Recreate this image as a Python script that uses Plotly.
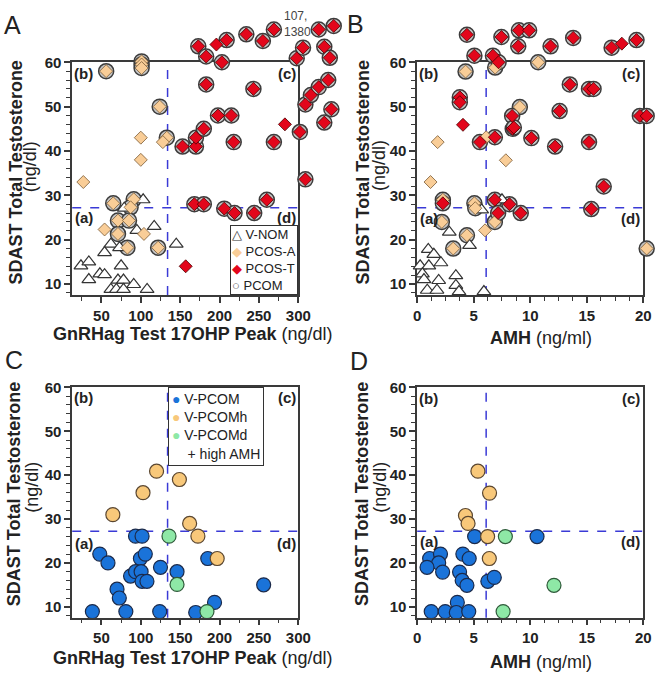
import plotly.graph_objects as go

FONT = "Arial, Liberation Sans, sans-serif"
W, H = 667, 673

# ---------------- panel A: 17OHP peak (ng/dl) vs testosterone ----------------
vnom_a_x = [103, 79, 95, 117, 145, 62, 54, 73, 24, 34, 34, 48, 54, 75, 71, 78, 62, 69, 78, 91, 108]
vnom_a_y = [29, 27.1, 22.1, 23, 19, 19, 17.1, 18.2, 14.1, 15, 11, 12.3, 12.1, 14.1, 10.9, 10.9, 8.8, 8.8, 8.8, 9.9, 8.8]

pcosa_a_x = [56, 101, 101, 101, 124, 133, 65, 91, 87, 71, 85, 71, 83, 122, 100, 100, 27, 128, 54, 104]
pcosa_a_y = [58, 60.2, 59.5, 58.7, 50, 43, 28.2, 29.1, 27.3, 24.3, 24.3, 21.3, 18.2, 18.2, 43, 38, 33, 42, 22.3, 21.3]
pcosa_a_pcom = [1] * 14 + [0] * 6

pcost_a_x = [153, 170, 170, 180, 198, 215, 218, 183, 243, 269, 302, 309, 309, 316, 326, 338, 342, 333,
             173, 183, 203, 209, 234, 255, 269, 298, 306, 326, 333, 340, 345,
             168, 180, 206, 219, 244, 260,
             196, 283, 157]
pcost_a_y = [41, 41, 43, 45, 48, 48, 42, 55, 54, 42, 44.3, 50.5, 33.6, 52.6, 54.4, 56, 49.4, 46.4,
             63.6, 61.3, 60, 65, 66.3, 64.8, 67.4, 60.9, 63.3, 67.4, 63.5, 61, 68.2,
             28, 28, 27, 26, 26, 29,
             64, 46, 14]
pcost_a_pcom = [1] * 37 + [0] * 3

# ---------------- panel B: AMH (ng/ml) vs testosterone ----------------
vnom_b_x = [5.7, 7.5, 2.84, 4.63, 0.98, 1.47, 2.1, 0.26, 1.03, 0.46, 0.6, 1.9, 3.42, 3.42, 0.89, 1.75, 3.7, 5.9]
vnom_b_y = [26.7, 29, 21.7, 18.7, 17.8, 16.7, 14.8, 14.1, 14.1, 12.3, 11, 10.8, 11.9, 9.7, 8.6, 8.6, 8.3, 8.3]

pcosa_b_x = [6.9, 10.7, 4.28, 9.08, 2.27, 2.18, 5.06, 5.14, 6.87, 20.3, 4.4, 3.19, 1.81, 1.18, 6.1, 7.84, 6.0]
pcosa_b_y = [58.8, 60, 57.9, 49.9, 29, 24, 28.2, 27.1, 24, 18, 21, 18, 42, 33, 43.1, 37.9, 22.1]
pcosa_b_pcom = [1] * 12 + [0] * 5

pcost_b_x = [4.4, 5.06, 6.7, 7.2, 7.45, 9.0, 9.9, 8.94, 11.8, 13.8, 17.2, 19.4, 3.77, 3.77, 5.55, 6.87,
             8.4, 8.45, 8.55, 10.1, 12.2, 12.6, 13.5, 15.2, 15.6, 15.2, 16.5, 19.7, 20.3,
             2.27, 6.87, 7.16, 8.16, 9.16, 15.4,
             18.1, 4.05]
pcost_b_y = [66.2, 61.5, 61.5, 60, 65.7, 67.2, 67.2, 63.6, 63.6, 65.5, 63.3, 65, 52.1, 51, 42, 43.1,
             47.9, 45, 45.3, 42.9, 41, 49, 55, 54, 54, 42, 32, 47.9, 47.9,
             28.2, 29, 26, 28, 26, 26.9,
             64.2, 45.9]
pcost_b_pcom = [1] * 35 + [0] * 2

# ---------------- panel C: 17OHP peak, V-PCOM subgroups ----------------
vpcom_c_x = [93.3, 101.6, 47.9, 58.3, 99.5, 105.7, 125, 87, 93.3, 100.4, 101.6, 107.8, 146, 185,
             69.8, 72.7, 256, 193.6, 38.5, 81, 124, 169.7]
vpcom_c_y = [26.1, 26.1, 22, 20, 21, 22, 19, 17, 18, 18, 15.8, 15.8, 18, 21,
             14, 12, 15, 11, 8.9, 8.9, 8.9, 8.7]
vpcomh_c_x = [120, 102.8, 149, 64.5, 162, 172.5, 197]
vpcomh_c_y = [40.9, 36, 39, 31, 29, 26.1, 21]
vpcomd_c_x = [135.8, 146, 184]
vpcomd_c_y = [26.1, 15.1, 8.9]

# ---------------- panel D: AMH, V-PCOM subgroups ----------------
vpcom_d_x = [5.08, 10.6, 1.1, 2.06, 1.9, 0.87, 2.25, 4.04, 4.6, 3.75, 3.98, 4.4, 6.25, 6.82,
             3.55, 1.24, 2.48, 3.46, 4.56]
vpcom_d_y = [26, 26, 21, 22, 20, 19, 17.9, 22, 21, 17.9, 16, 14.9, 15.8, 16.7,
             11, 8.9, 8.9, 8.7, 8.9]
vpcomh_d_x = [5.37, 6.4, 4.27, 4.5, 6.23, 6.38]
vpcomh_d_y = [40.9, 35.9, 30.8, 29, 26, 21]
vpcomd_d_x = [7.8, 12.1, 7.6]
vpcomd_d_y = [26, 14.9, 8.9]

OHP_CUT = 134
AMH_CUT = 6.1
T_CUT = 27.2

OHP_RANGE = [12.9, 300]
AMH_RANGE = [0, 20]
T_RANGE = [7.5, 60]


def pick(vals, flags, want=1):
    return [v for v, f in zip(vals, flags) if f == want]


def sc(x, y, n, symbol, size, fill, line, lw):
    return go.Scatter(
        x=x, y=y, xaxis="x" + n, yaxis="y" + n, mode="markers", cliponaxis=False,
        marker=dict(symbol=symbol, size=size, color=fill, line=dict(color=line, width=lw)),
        showlegend=False, hoverinfo="skip")


GREY = ("#c4c4c4", "#3c3c3c")
TAN = ("#f9cd97", "#7a5a35")
RED = ("#e3061b", "#4a0000")
BLUE = ("#1a73d9", "#1b2a4a")
PEACH = ("#f8c87a", "#5a4630")
GREEN = ("#8ee8a6", "#2f5a3a")

fig = go.Figure()

# panels A and B are drawn on hidden overlay axes (5, 6) that extend past the frame,
# so the off-scale points above 60 / right of the box still show
for n, vx, vy, ax, ay, af, tx, ty, tf in [
    ("5", vnom_a_x, vnom_a_y, pcosa_a_x, pcosa_a_y, pcosa_a_pcom, pcost_a_x, pcost_a_y, pcost_a_pcom),
    ("6", vnom_b_x, vnom_b_y, pcosa_b_x, pcosa_b_y, pcosa_b_pcom, pcost_b_x, pcost_b_y, pcost_b_pcom),
]:
    px_ = pick(ax, af) + pick(tx, tf)
    py_ = pick(ay, af) + pick(ty, tf)
    fig.add_trace(sc(px_, py_, n, "circle", 15, GREY[0], GREY[1], 1.5))
    fig.add_trace(sc(vx, vy, n, "triangle-up", 12, "white", "#333333", 1.2))
    fig.add_trace(sc(ax, ay, n, "diamond", 10, TAN[0], TAN[1], 0.8))
    fig.add_trace(sc(tx, ty, n, "diamond", 10, RED[0], RED[1], 0.8))

for n, bx, by, hx, hy, gx, gy in [
    ("3", vpcom_c_x, vpcom_c_y, vpcomh_c_x, vpcomh_c_y, vpcomd_c_x, vpcomd_c_y),
    ("4", vpcom_d_x, vpcom_d_y, vpcomh_d_x, vpcomh_d_y, vpcomd_d_x, vpcomd_d_y),
]:
    fig.add_trace(sc(bx, by, n, "circle", 14, BLUE[0], BLUE[1], 1.2))
    fig.add_trace(sc(hx, hy, n, "circle", 14, PEACH[0], PEACH[1], 1.2))
    fig.add_trace(sc(gx, gy, n, "circle", 14, GREEN[0], GREEN[1], 1.2))


def px2x(p):
    return p / W


def py2y(p):
    return 1 - p / H


def stretch(rng, p0, p1, q0, q1):
    # same scale as rng over pixels p0..p1, but over pixels q0..q1
    k = (rng[1] - rng[0]) / (p1 - p0)
    return [rng[0] + (q0 - p0) * k, rng[0] + (q1 - p0) * k]


AX = dict(showline=True, linecolor="#3a3a3a", linewidth=1.5, mirror=True, showgrid=False,
          zeroline=False, ticks="outside", ticklen=6, tickwidth=1.5, tickcolor="#3a3a3a",
          tickfont=dict(family=FONT, size=15, color="#222222", weight="bold"))


def xaxis(dom, rng, dtick, mdt, anchor):
    return dict(AX, domain=[px2x(dom[0]), px2x(dom[1])], range=rng, dtick=dtick, tick0=0,
                anchor=anchor,
                minor=dict(dtick=mdt, tick0=0, ticks="outside", ticklen=4, tickwidth=1.2,
                           tickcolor="#3a3a3a"))


def yaxis(dom, anchor):
    return dict(AX, domain=[py2y(dom[1]), py2y(dom[0])], range=T_RANGE, dtick=10, tick0=0,
                anchor=anchor,
                minor=dict(dtick=2, tick0=0, ticks="outside", ticklen=4, tickwidth=1.2,
                           tickcolor="#3a3a3a"))


LEFT = [70, 302]
RIGHT = [424, 656]
TOP = [54, 290]
BOT = [383.5, 617]

fig.update_layout(
    xaxis=xaxis(LEFT, OHP_RANGE, 50, 25, "y"),
    yaxis=yaxis(TOP, "x"),
    xaxis2=xaxis(RIGHT, AMH_RANGE, 5, 1.25, "y2"),
    yaxis2=yaxis(TOP, "x2"),
    xaxis3=xaxis(LEFT, OHP_RANGE, 50, 25, "y3"),
    yaxis3=yaxis(BOT, "x3"),
    xaxis4=xaxis(RIGHT, AMH_RANGE, 5, 1.25, "y4"),
    yaxis4=yaxis(BOT, "x4"),
    xaxis5=dict(visible=False, anchor="y5", domain=[px2x(70), px2x(367)],
                range=stretch(OHP_RANGE, 70, 302, 70, 367)),
    yaxis5=dict(visible=False, anchor="x5", domain=[py2y(290), 1],
                range=stretch(T_RANGE, 290, 54, 290, 0)),
    xaxis6=dict(visible=False, anchor="y6", domain=[px2x(424), 1],
                range=stretch(AMH_RANGE, 424, 656, 424, 667)),
    yaxis6=dict(visible=False, anchor="x6", domain=[py2y(290), 1],
                range=stretch(T_RANGE, 290, 54, 290, 0)),
)

# dashed cut-off lines
shapes = []
for n, xc in [("", OHP_CUT), ("2", AMH_CUT), ("3", OHP_CUT), ("4", AMH_CUT)]:
    ln = dict(color="#3a3ad6", width=1.5, dash="dash")
    shapes.append(dict(type="line", xref="x" + n, yref="y" + n + " domain", x0=xc, x1=xc, y0=0, y1=1,
                       line=ln, layer="below"))
    shapes.append(dict(type="line", xref="x" + n + " domain", yref="y" + n, x0=0, x1=1,
                       y0=T_CUT, y1=T_CUT, line=ln, layer="below"))
fig.update_layout(shapes=shapes)

ann = []


def txt(s, x, y, size, bold=False, angle=0, color="#222222", xa="center", ya="middle",
        align="center", pad=None):
    a = dict(text=s, x=px2x(x), y=py2y(y), xref="paper", yref="paper", showarrow=False,
             textangle=angle, xanchor=xa, yanchor=ya, align=align,
             font=dict(family=FONT, size=size, color=color,
                       weight="bold" if bold else "normal"))
    if pad is not None:
        a.update(bgcolor="white", bordercolor="#333333", borderwidth=1, borderpad=pad)
    ann.append(a)


# panel letters
for s, x, y in [("A", 9, 16), ("B", 361, 15), ("C", 10, 356), ("D", 364, 357)]:
    txt(s, x, y, 25)

# quadrant labels
for xl, xr_, yt, ym in [(82, 290, 65, 211), (436, 643, 65, 212), (82, 290, 394, 542), (436, 643, 395, 540)]:
    txt("(b)", xl, yt, 15, True)
    txt("(c)", xr_, yt, 15, True)
    txt("(a)", xl, ym, 15, True)
    txt("(d)", xr_, ym, 15, True)

# axis titles
for x1, x2, yb, yn in [(12, 27, 166, 160), (368, 385, 166, 159), (11, 28, 492, 485), (368, 385, 492, 485)]:
    txt("SDAST Total Testosterone", x1, yb, 18, True, -90)
    txt("(ng/dl)", x2, yn, 18, False, -90)
txt("<b>GnRHag Test 17OHP Peak</b> (ng/dl)", 193, 329, 18)
txt("<b>AMH</b> (ng/ml)", 551, 333, 18)
txt("<b>GnRHag Test 17OHP Peak</b> (ng/dl)", 193, 658, 18)
txt("<b>AMH</b> (ng/ml)", 551, 662, 18)

# off-scale value note
txt("107,<br>1380", 285, 15, 12, color="#444444", xa="left", align="left")


def key(sym, color):
    return "<span style='color:%s'>%s</span>" % (color, sym)


# legends as boxed text keys
legend_a = "<br>".join([
    key("\u25b3", "#333333") + " V-NOM",
    key("\u25c6", TAN[0]) + " PCOS-A",
    key("\u25c6", RED[0]) + " PCOS-T",
    key("\u25cb", "#555555") + " PCOM",
])
txt(legend_a, 302, 290, 13, xa="right", ya="bottom", align="left", pad=1)

legend_c = "<br>".join([
    key("\u25cf", BLUE[0]) + " V-PCOM",
    key("\u25cf", PEACH[0]) + " V-PCOMh",
    key("\u25cf", GREEN[0]) + " V-PCOMd",
    "    + high AMH",
])
txt(legend_c, 168, 383.5, 14, xa="left", ya="top", align="left", pad=3)

fig.update_layout(
    annotations=ann,
    width=W, height=H,
    margin=dict(l=0, r=0, t=0, b=0),
    paper_bgcolor="white", plot_bgcolor="rgba(0,0,0,0)",
    font=dict(family=FONT, color="#222222"),
    showlegend=False,
)

fig.write_html(
    "out.html",
    config={"displayModeBar": False},
    post_script="document.body.style.margin='0';"
                "var d=document.getElementById('{plot_id}');"
                "d.style.position='absolute';d.style.left='0';d.style.top='0';",
)
